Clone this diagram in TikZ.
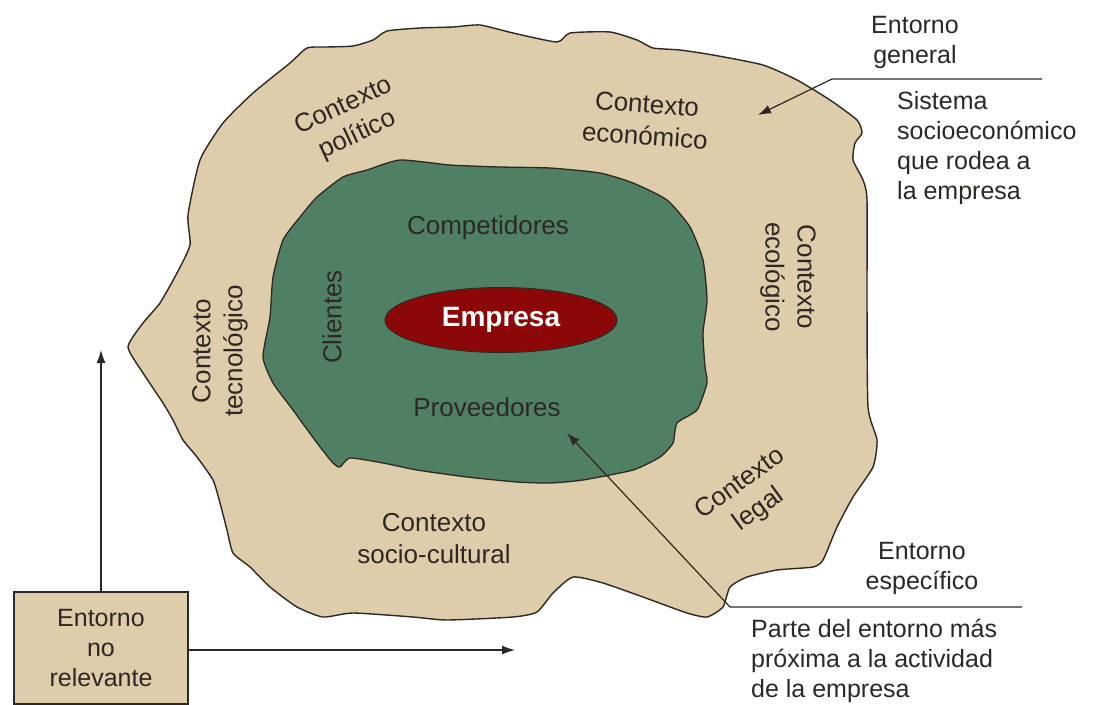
\documentclass[tikz,border=0pt]{standalone}
\usepackage{fontspec}
\setmainfont{Liberation Sans}
\usetikzlibrary{arrows.meta,shapes.geometric}
\definecolor{blobtan}{RGB}{222,205,170}
\definecolor{blobgreen}{RGB}{80,128,100}
\definecolor{empred}{RGB}{140,8,8}
\definecolor{inkgrey}{RGB}{45,40,35}

\begin{document}
\begin{tikzpicture}[x=1pt,y=-1pt,
    ctx/.style={text=inkgrey,align=center,inner sep=0pt,font=\fontsize{26}{32}\selectfont},
    note/.style={text=inkgrey,align=left,inner sep=0pt,font=\fontsize{25}{30}\selectfont},
    arr/.style={-{Latex[length=13pt,width=9pt]},line width=1.2pt,inkgrey}]
        \useasboundingbox[fill=white](0,0) rectangle (1099,704);
        % outer blob: entorno general
        \draw[fill=blobtan,draw=inkgrey,line width=1.4pt]
          plot[smooth cycle,tension=0.35] coordinates {
          (128,347) (143,323) (160,303) (177,273) (190,245) (188,215) (200,160)
          (223,123) (253,93) (290,63) (307,48) (327,47) (353,46) (373,40) (387,31)
          (420,28) (453,27) (480,25) (513,33) (557,42) (570,33) (610,32) (637,40)
          (653,48) (680,50) (713,55) (763,65) (797,80) (830,100) (857,120) (862,133)
          (855,143) (853,160) (863,180) (867,200) (867,300) (868,407) (877,440)
          (873,467) (853,497) (837,527) (823,560) (813,567) (777,570) (747,577)
          (730,587) (723,607) (707,617) (687,613) (643,597) (603,583) (573,577)
          (553,593) (537,612) (513,617) (447,620) (413,617) (353,613) (323,617)
          (297,607) (270,587) (250,567) (233,553) (227,530) (220,503) (213,480)
          (197,457) (183,440) (173,420) (163,403) (143,373)};
        % inner blob: entorno especifico
        \draw[fill=blobgreen,draw=inkgrey,line width=1.3pt]
          plot[smooth cycle,tension=0.35] coordinates {
          (317,197) (343,177) (367,170) (400,160) (450,165) (500,167) (550,168)
          (600,173) (633,183) (667,200) (690,227) (703,260) (707,300) (703,333)
          (705,367) (707,383) (697,410) (677,423) (673,443) (660,457) (633,470)
          (583,480) (550,483) (517,482) (467,477) (417,470) (383,463) (350,458)
          (340,467) (333,463) (317,443) (293,410) (273,383) (263,357) (270,317)
          (273,277) (283,240) (300,217)};
        \node[ellipse,fill=empred,draw=inkgrey,line width=1pt,minimum width=232pt,
          minimum height=65pt,text=white,font=\bfseries\fontsize{28}{32}\selectfont]
          (empresa) at (501,320) {Empresa};
        % labels
        \node[ctx,rotate=25] (politico) at (351,121) {Contexto\\político};
        \node[ctx,rotate=-4] (economico) at (646,120) {Contexto\\económico};
        \node[ctx,rotate=-90] (ecologico) at (788,277) {Contexto\\ecológico};
        \node[ctx,rotate=90] (tecnologico) at (220,351) {Contexto\\tecnológico};
        \node[ctx,rotate=36] (legal) at (750,497) {Contexto\\legal};
        \node[ctx] (sociocultural) at (434,539) {Contexto\\socio-cultural};
        \node[ctx] (competidores) at (488,228) {Competidores};
        \node[ctx] (proveedores) at (487,407) {Proveedores};
        \node[ctx,rotate=90] (clientes) at (332,317) {Clientes};
        % right side notes
        \node[note,align=center] (general) at (915,42) {Entorno\\general};
        \node[note,anchor=west] (sistema) at (897,148)
          {Sistema\\socioeconómico\\que rodea a\\la empresa};
        \node[note,align=center] (especifico) at (922,568) {Entorno\\específico};
        \node[note,anchor=west] (parte) at (751,661)
          {Parte del entorno más\\próxima a la actividad\\de la empresa};
        \coordinate (genR) at (1042,79);
        \coordinate (genL) at (832,79);
        \coordinate (genTip) at (758,115);
        \draw[arr] (genR) -- (genL) -- (genTip);
        \coordinate (espR) at (1022,607);
        \coordinate (espL) at (730,607);
        \coordinate (espTip) at (567,433);
        \draw[arr] (espR) -- (espL) -- (espTip);
        % entorno no relevante
        \node[draw=inkgrey,line width=1.2pt,fill=blobtan,minimum width=174pt,minimum height=112pt,
          align=center,text=inkgrey,font=\fontsize{25}{30}\selectfont]
          (norel) at (101,648) {Entorno\\no\\relevante};
        \coordinate (upTip) at (101,350);
        \coordinate (rightTip) at (515,650);
        \draw[arr] (norel.north) -- (upTip);
        \draw[arr] (norel.east |- rightTip) -- (rightTip);
\end{tikzpicture}
\end{document}
